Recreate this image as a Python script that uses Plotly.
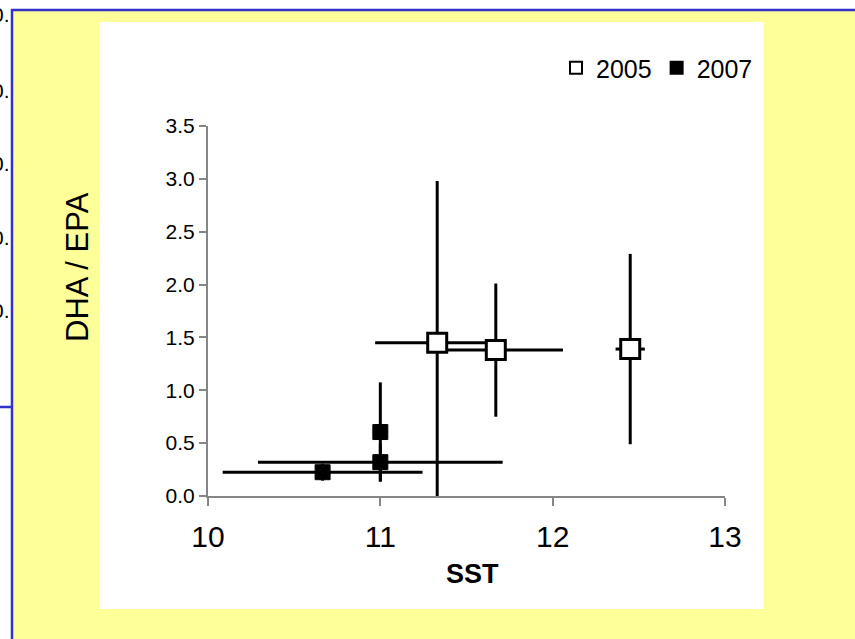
import plotly.graph_objects as go

# ---------------- data ----------------
years = ["2005", "2007"]

sst_2005 = [11.33, 11.67, 12.45]
ratio_2005 = [1.45, 1.38, 1.39]
sst_err_2005 = [0.36, 0.39, 0.085]
ratio_err_2005 = [1.53, 0.63, 0.90]

sst_2007 = [10.665, 11.0, 11.0]
ratio_2007 = [0.225, 0.32, 0.605]
sst_err_2007 = [0.58, 0.71, 0.02]
ratio_err_2007 = [0.08, 0.18, 0.47]

x_ticks = [10, 11, 12, 13]
y_ticks = [0.0, 0.5, 1.0, 1.5, 2.0, 2.5, 3.0, 3.5]
stray_labels = ["0.", "0.", "0.", "0.", "0."]

# ---------------- layout geometry (pixels) ----------------
W, H = 855, 639
L, R, T, B = 208, 725, 126, 496


def px_x(p):
    return (p - L) / (R - L)


def px_y(p):
    return (B - p) / (B - T)


FONT = "Liberation Sans, Arial, sans-serif"

fig = go.Figure()

fig.add_trace(go.Scatter(
    x=sst_2005, y=ratio_2005, mode="markers", name=years[0],
    cliponaxis=False,
    marker=dict(symbol="square", size=19, color="white",
                line=dict(color="black", width=3)),
    error_x=dict(type="data", array=sst_err_2005, color="black",
                 thickness=3, width=0),
    error_y=dict(type="data", array=ratio_err_2005, color="black",
                 thickness=3, width=0),
))

fig.add_trace(go.Scatter(
    x=sst_2007, y=ratio_2007, mode="markers", name=years[1],
    cliponaxis=False,
    marker=dict(symbol="square", size=15, color="black",
                line=dict(color="black", width=1)),
    error_x=dict(type="data", array=sst_err_2007, color="black",
                 thickness=3, width=0),
    error_y=dict(type="data", array=ratio_err_2007, color="black",
                 thickness=3, width=0),
))

shapes = [
    # yellow page
    dict(type="rect", xref="paper", yref="paper", layer="below",
         x0=px_x(12), x1=px_x(870), y0=px_y(10), y1=px_y(660),
         fillcolor="#FFFF99", line=dict(width=0)),
    # white chart area
    dict(type="rect", xref="paper", yref="paper", layer="below",
         x0=px_x(99), x1=px_x(764), y0=px_y(22), y1=px_y(609),
         fillcolor="white", line=dict(width=0)),
    # blue frame lines
    dict(type="line", xref="paper", yref="paper", layer="below",
         x0=px_x(12), x1=px_x(12), y0=px_y(9), y1=px_y(660),
         line=dict(color="#3333CC", width=2.5)),
    dict(type="line", xref="paper", yref="paper", layer="below",
         x0=px_x(11), x1=px_x(870), y0=px_y(10), y1=px_y(10),
         line=dict(color="#3333CC", width=2.5)),
    dict(type="line", xref="paper", yref="paper", layer="below",
         x0=px_x(-5), x1=px_x(12), y0=px_y(407), y1=px_y(407),
         line=dict(color="#3333CC", width=2.5)),
]

stray_y = [15, 90, 163, 237, 310]
annotations = [
    dict(text=t, xref="paper", yref="paper", x=px_x(12), y=px_y(yy),
         xanchor="right", yanchor="middle", showarrow=False,
         font=dict(family=FONT, size=21, color="black"))
    for t, yy in zip(stray_labels, stray_y)
]
annotations += [
    dict(text="DHA / EPA", xref="paper", yref="paper",
         x=px_x(77), y=px_y(267), xanchor="center", yanchor="middle",
         textangle=-90, showarrow=False,
         font=dict(family=FONT, size=31, color="black")),
    dict(text="<b>SST</b>", xref="paper", yref="paper",
         x=px_x(472), y=px_y(574), xanchor="center", yanchor="middle",
         showarrow=False,
         font=dict(family=FONT, size=27, color="black")),
]

fig.update_layout(
    width=W, height=H,
    margin=dict(l=L, r=W - R, t=T, b=H - B, pad=0),
    paper_bgcolor="white",
    plot_bgcolor="white",
    font=dict(family=FONT, color="black"),
    showlegend=True,
    legend=dict(orientation="h", x=px_x(556), y=px_y(68),
                xanchor="left", yanchor="middle",
                bgcolor="rgba(0,0,0,0)", itemsizing="constant",
                font=dict(family=FONT, size=25, color="black"),
                itemclick=False),
    shapes=shapes,
    annotations=annotations,
    xaxis=dict(range=[10, 13], tickvals=x_ticks, ticktext=[str(v) for v in x_ticks],
               showgrid=False, zeroline=False, showline=True,
               linecolor="#868686", linewidth=2, ticks="outside",
               tickcolor="#868686", tickwidth=2, ticklen=8,
               ticklabelstandoff=5,
               tickfont=dict(family=FONT, size=30, color="black"),
               layer="below traces", fixedrange=True),
    yaxis=dict(range=[0, 3.5], tickvals=y_ticks,
               ticktext=[f"{v:.1f}" for v in y_ticks],
               showgrid=False, zeroline=False, showline=True,
               linecolor="#868686", linewidth=2, ticks="outside",
               tickcolor="#868686", tickwidth=2, ticklen=7,
               tickfont=dict(family=FONT, size=21, color="black"),
               layer="below traces", fixedrange=True),
)

fig.write_html("out.html")
